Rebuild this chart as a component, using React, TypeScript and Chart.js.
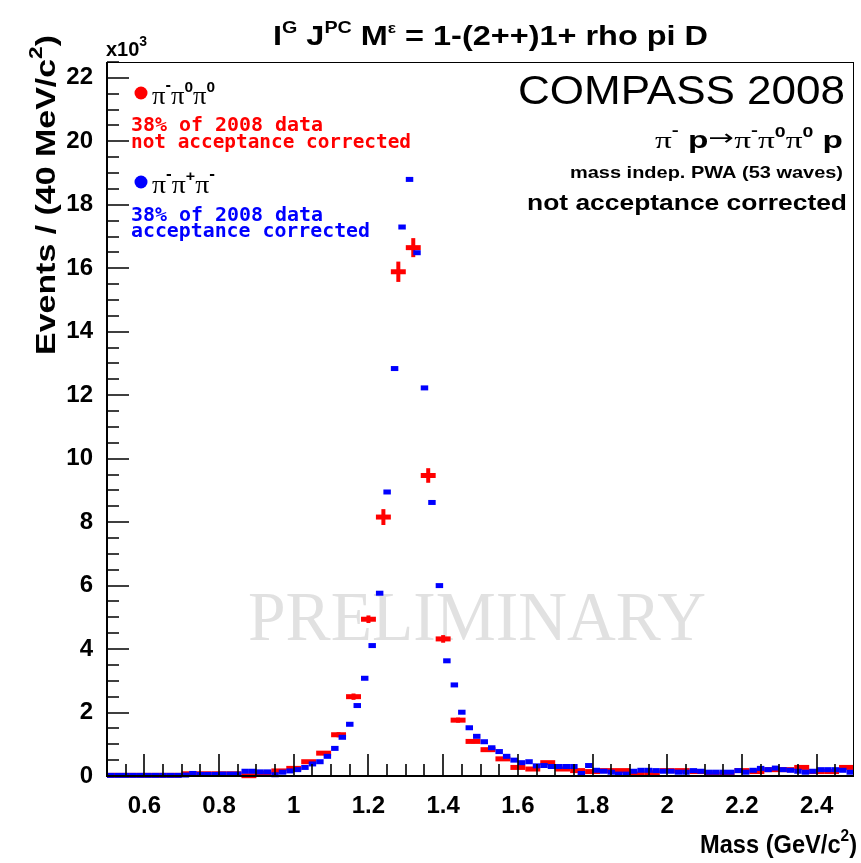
import React, { useEffect, useRef } from 'react';
import { Chart, registerables } from 'chart.js';

Chart.register(...registerables);

// ---------------- data ----------------
const X_MIN = 0.5;
const X_MAX = 2.5;
const Y_MIN = 0;
const Y_MAX = 22.5; // units of 10^3 events

// histogram binning (GeV/c^2)
const RED_BIN_WIDTH = 0.04; // pi- pi0 pi0, 40 MeV bins
const BLUE_BIN_WIDTH = 0.02; // pi- pi+ pi-, 20 MeV bins

const xTickValues = [0.6, 0.8, 1.0, 1.2, 1.4, 1.6, 1.8, 2.0, 2.2, 2.4];
const xTickLabels = ['0.6', '0.8', '1', '1.2', '1.4', '1.6', '1.8', '2', '2.2', '2.4'];
const yTickValues = [0, 2, 4, 6, 8, 10, 12, 14, 16, 18, 20, 22];
const yTickLabels = ['0', '2', '4', '6', '8', '10', '12', '14', '16', '18', '20', '22'];

// pi- pi0 pi0 (red), 50 bins from 0.50 to 2.50
const redValues = [
  0.02, 0.02, 0.02, 0.02, 0.02, 0.07, 0.07, 0.07, 0.07, 0.01,
  0.08, 0.16, 0.24, 0.45, 0.72, 1.30, 2.50, 4.94, 8.16, 15.89,
  16.65, 9.47, 4.32, 1.76, 1.09, 0.83, 0.54, 0.27, 0.22, 0.42,
  0.22, 0.17, 0.14, 0.17, 0.17, 0.06, 0.10, 0.17, 0.17, 0.14,
  0.06, 0.06, 0.17, 0.14, 0.20, 0.20, 0.27, 0.14, 0.14, 0.27,
];
const redErrors = [
  0.02, 0.02, 0.02, 0.02, 0.02, 0.03, 0.03, 0.03, 0.03, 0.02,
  0.03, 0.04, 0.05, 0.05, 0.06, 0.08, 0.10, 0.12, 0.25, 0.32,
  0.30, 0.23, 0.12, 0.08, 0.06, 0.05, 0.05, 0.04, 0.04, 0.05,
  0.04, 0.03, 0.03, 0.03, 0.03, 0.02, 0.03, 0.03, 0.03, 0.03,
  0.02, 0.02, 0.03, 0.03, 0.03, 0.03, 0.04, 0.03, 0.03, 0.04,
];

// pi- pi+ pi- (blue), 100 bins from 0.50 to 2.50
const blueValues = [
  0.02, 0.02, 0.02, 0.02, 0.02, 0.02, 0.02, 0.02, 0.02, 0.02,
  0.03, 0.08, 0.05, 0.05, 0.05, 0.06, 0.06, 0.06, 0.15, 0.15,
  0.13, 0.13, 0.04, 0.12, 0.16, 0.20, 0.27, 0.38, 0.45, 0.62,
  0.87, 1.22, 1.63, 2.22, 3.08, 4.11, 5.76, 8.95, 12.84, 17.30,
  18.80, 16.49, 12.23, 8.62, 6.00, 3.63, 2.87, 2.01, 1.52, 1.25,
  1.08, 0.89, 0.77, 0.62, 0.50, 0.42, 0.45, 0.32, 0.33, 0.30,
  0.30, 0.30, 0.30, 0.08, 0.33, 0.18, 0.15, 0.12, 0.06, 0.06,
  0.15, 0.18, 0.18, 0.17, 0.15, 0.15, 0.12, 0.12, 0.17, 0.15,
  0.12, 0.12, 0.12, 0.12, 0.17, 0.12, 0.18, 0.24, 0.20, 0.25,
  0.20, 0.18, 0.15, 0.12, 0.15, 0.20, 0.20, 0.20, 0.18, 0.12,
];

const RED = '#ff0000';
const BLUE = '#0000ff';

const redPoints = redValues.map((v, i) => ({
  x: X_MIN + (i + 0.5) * RED_BIN_WIDTH,
  y: v,
  err: redErrors[i],
}));
const bluePoints = blueValues.map((v, i) => ({
  x: X_MIN + (i + 0.5) * BLUE_BIN_WIDTH,
  y: v,
}));

// ---------------- text helpers ----------------
const SANS = '"Liberation Sans", Arial, Helvetica, sans-serif';
const SERIF = '"Liberation Serif", "Times New Roman", serif';
const MONO = '"DejaVu Sans Mono", monospace';
const DEJAVU = '"DejaVu Sans", sans-serif';

type Seg = { t: string; f: string; dy?: number; c?: string };
const s = (t: string, f: string, dy = 0, c?: string): Seg => ({ t, f, dy, c });

function drawRich(
  ctx: CanvasRenderingContext2D,
  segs: Seg[],
  x: number,
  y: number,
  opts: { align?: 'left' | 'right'; width?: number; color?: string; rotate?: boolean } = {}
) {
  ctx.save();
  ctx.textAlign = 'left';
  ctx.textBaseline = 'alphabetic';
  let w = 0;
  for (const g of segs) {
    ctx.font = g.f;
    w += ctx.measureText(g.t).width;
  }
  const sx = opts.width ? opts.width / w : 1;
  ctx.translate(x, y);
  if (opts.rotate) ctx.rotate(-Math.PI / 2);
  if (opts.align === 'right') ctx.translate(-w * sx, 0);
  ctx.scale(sx, 1);
  let cx = 0;
  for (const g of segs) {
    ctx.font = g.f;
    ctx.fillStyle = g.c || opts.color || '#000';
    ctx.fillText(g.t, cx, g.dy || 0);
    cx += ctx.measureText(g.t).width;
  }
  ctx.restore();
}

const B = (n: number) => `bold ${n}px ${SANS}`;
const R = (n: number) => `${n}px ${SANS}`;
const P = (n: number) => `${n}px ${SERIF}`;

// ---------------- plugin: ROOT style frame, ticks and texts ----------------
const rootStyle = {
  id: 'rootStyle',
  beforeDatasetsDraw(chart: any) {
    const ctx: CanvasRenderingContext2D = chart.ctx;
    drawRich(ctx, [s('PRELIMINARY', P(70))], 248, 640, { width: 458, color: '#e1e1e1' });
  },
  afterDatasetsDraw(chart: any) {
    const ctx: CanvasRenderingContext2D = chart.ctx;
    const { left, right, top, bottom } = chart.chartArea;
    const xs = chart.scales.x;
    const ys = chart.scales.y;
    ctx.save();
    ctx.strokeStyle = '#000';
    ctx.lineWidth = 1;
    ctx.strokeRect(left + 0.5, top + 0.5, right - left - 1, bottom - top);
    ctx.lineWidth = 2;
    ctx.beginPath();
    ctx.moveTo(left, top);
    ctx.lineTo(left, bottom);
    ctx.lineTo(right, bottom);
    ctx.stroke();
    // x ticks (inside)
    ctx.lineWidth = 1.6;
    ctx.beginPath();
    for (let k = 0; k <= 40; k++) {
      const v = X_MIN + k * 0.05;
      const px = Math.round(xs.getPixelForValue(v));
      const major = Math.abs(v / 0.2 - Math.round(v / 0.2)) < 1e-6;
      const len = major ? 22 : 12;
      if (k === 0 || k === 40) continue;
      ctx.moveTo(px, bottom);
      ctx.lineTo(px, bottom - len);
    }
    // y ticks (inside)
    for (let k = 0; k <= 45; k++) {
      const v = Y_MIN + k * 0.5;
      const py = Math.round(ys.getPixelForValue(v));
      const major = k % 4 === 0;
      const len = major ? 22 : 12;
      if (k === 0) continue;
      ctx.moveTo(left, py);
      ctx.lineTo(left + len, py);
    }
    ctx.stroke();
    ctx.restore();

    // title and multiplier
    drawRich(ctx, [s('x10', B(20)), s('3', B(14), -10)], 106, 56);
    drawRich(
      ctx,
      [
        s('I', B(28)),
        s('G', B(17), -12),
        s(' J', B(28)),
        s('PC', B(17), -12),
        s(' M', B(28)),
        s('ε', B(15), -12),
        s(' = 1-(2++)1+ rho pi D', B(28)),
      ],
      273,
      45,
      { width: 435 }
    );

    // axis titles
    drawRich(ctx, [s('Mass (GeV/c', B(26)), s('2', B(17), -12), s(')', B(26))], 857, 853, {
      align: 'right',
      width: 157,
    });
    drawRich(ctx, [s('Events / (40 MeV/c', B(27)), s('2', B(18), -13), s(')', B(27))], 55, 355, {
      rotate: true,
      width: 320,
    });

    // legend (left)
    ctx.save();
    ctx.fillStyle = RED;
    ctx.beginPath();
    ctx.arc(141, 93, 6.5, 0, Math.PI * 2);
    ctx.fill();
    ctx.fillStyle = BLUE;
    ctx.beginPath();
    ctx.arc(141, 182, 6.5, 0, Math.PI * 2);
    ctx.fill();
    ctx.restore();
    drawRich(
      ctx,
      [s('π', P(26)), s('-', B(16), -14), s('π', P(26)), s('0', B(15), -12), s('π', P(26)), s('0', B(15), -12)],
      152,
      104,
      { width: 63 }
    );
    drawRich(ctx, [s('38% of 2008 data', `bold 19px ${MONO}`)], 131, 131, { width: 192, color: RED });
    drawRich(ctx, [s('not acceptance corrected', `bold 19px ${MONO}`)], 131, 148, { width: 280, color: RED });
    drawRich(
      ctx,
      [s('π', P(26)), s('-', B(16), -14), s('π', P(26)), s('+', B(15), -12), s('π', P(26)), s('-', B(16), -14)],
      152,
      193,
      { width: 63 }
    );
    drawRich(ctx, [s('38% of 2008 data', `bold 19px ${MONO}`)], 131, 221, { width: 192, color: BLUE });
    drawRich(ctx, [s('acceptance corrected', `bold 19px ${MONO}`)], 131, 237, { width: 239, color: BLUE });

    // right block
    drawRich(ctx, [s('COMPASS 2008', R(40))], 845, 104, { align: 'right', width: 327 });
    drawRich(
      ctx,
      [
        s('π', P(24)),
        s('-', B(15), -13),
        s(' p', B(24)),
        s('→', `22px ${DEJAVU}`, -3),
        s('π', P(24)),
        s('-', B(15), -13),
        s('π', P(24)),
        s('0', B(14), -11),
        s('π', P(24)),
        s('0', B(14), -11),
        s(' p', B(24)),
      ],
      843,
      148,
      { align: 'right', width: 188 }
    );
    drawRich(ctx, [s('mass indep. PWA (53 waves)', B(17))], 843, 178, { align: 'right', width: 273 });
    drawRich(ctx, [s('not acceptance corrected', B(22))], 847, 210, { align: 'right', width: 320 });
  },
};

// ---------------- chart ----------------
function spanPx(chart: any, axis: 'x' | 'y', dv: number) {
  const sc = chart.scales[axis];
  if (!sc) return 0;
  const base = axis === 'x' ? X_MIN : Y_MIN;
  return Math.abs(sc.getPixelForValue(base + dv) - sc.getPixelForValue(base));
}

const tickFont = { family: 'Liberation Sans', size: 24, weight: 'bold' };

export default function App() {
  const ref = useRef<HTMLCanvasElement>(null);

  useEffect(() => {
    if (!ref.current) return;
    const chart = new Chart(ref.current, {
      type: 'scatter',
      data: {
        datasets: [
          {
            label: 'π-π+π- (acceptance corrected)',
            data: bluePoints as any,
            pointStyle: 'line',
            pointRadius: (c: any) => spanPx(c.chart, 'x', BLUE_BIN_WIDTH / 2),
            pointBorderWidth: 5,
            pointBorderColor: BLUE,
            pointBackgroundColor: BLUE,
            showLine: false,
            clip: 12,
          } as any,
          {
            label: 'π-π0π0 error',
            data: redPoints as any,
            pointStyle: 'line',
            pointRotation: 90,
            pointRadius: (c: any) => spanPx(c.chart, 'y', c.raw ? c.raw.err : 0),
            pointBorderWidth: 4,
            pointBorderColor: RED,
            pointBackgroundColor: RED,
            showLine: false,
            clip: 12,
          } as any,
          {
            label: 'π-π0π0 (not acceptance corrected)',
            data: redPoints as any,
            pointStyle: 'line',
            pointRadius: (c: any) => spanPx(c.chart, 'x', RED_BIN_WIDTH / 2),
            pointBorderWidth: 5,
            pointBorderColor: RED,
            pointBackgroundColor: RED,
            showLine: false,
            clip: 12,
          } as any,
        ],
      },
      options: {
        responsive: false,
        animation: false,
        devicePixelRatio: 1,
        events: [],
        layout: { padding: { left: 0, right: 7, top: 62, bottom: 0 } },
        plugins: {
          legend: { display: false },
          tooltip: { enabled: false },
          title: { display: false },
        },
        scales: {
          x: {
            type: 'linear',
            min: X_MIN,
            max: X_MAX,
            grid: { display: false },
            border: { display: false },
            ticks: {
              color: '#000',
              font: tickFont,
              padding: 8,
              maxRotation: 0,
              autoSkip: false,
              callback: (_v: any, i: number) => xTickLabels[i] ?? '',
            },
            afterBuildTicks: (sc: any) => {
              sc.ticks = xTickValues.map((v) => ({ value: v }));
            },
            afterFit: (sc: any) => {
              sc.height = 87;
            },
          },
          y: {
            type: 'linear',
            min: Y_MIN,
            max: Y_MAX,
            grid: { display: false },
            border: { display: false },
            ticks: {
              color: '#000',
              font: tickFont,
              padding: 6,
              autoSkip: false,
              callback: (_v: any, i: number) => yTickLabels[i] ?? '',
            },
            afterBuildTicks: (sc: any) => {
              sc.ticks = yTickValues.map((v) => ({ value: v }));
            },
            afterFit: (sc: any) => {
              sc.width = 107;
            },
          },
        },
      } as any,
      plugins: [rootStyle],
    });
    return () => chart.destroy();
  }, []);

  return (
    <div style={{ position: 'absolute', left: 0, top: 0, width: 861, height: 863, background: '#fff' }}>
      <canvas ref={ref} width={861} height={863} style={{ display: 'block' }} />
    </div>
  );
}
